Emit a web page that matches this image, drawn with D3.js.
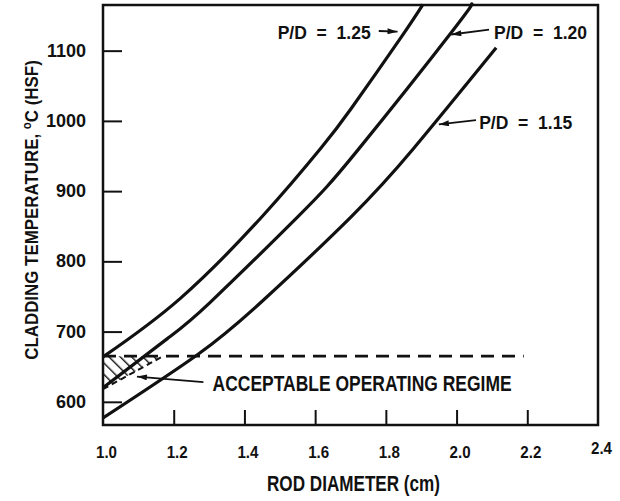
<!DOCTYPE html>
<html>
<head>
<meta charset="utf-8">
<script src="https://cdn.jsdelivr.net/npm/d3@7"></script>
<style>
  body { margin: 0; background: #fff; }
  text { font-family: 'Liberation Sans', Arial, sans-serif; font-weight: bold; fill: #111; }
</style>
</head>
<body>
<div id="chart"></div>
<script>
////////////////////////////////////////////////////////////////////////
// Data: rod diameter (cm) vs cladding temperature (C)

let xTicks = [1.0, 1.2, 1.4, 1.6, 1.8, 2.0, 2.2, 2.4];
let yTicks = [600, 700, 800, 900, 1000, 1100];

// one curve per pitch-to-diameter ratio
let pd125Diam = [1.0, 1.218, 1.454, 1.616, 1.701, 1.843, 1.905];
let pd125Temp = [664, 747, 866, 961, 1017, 1119, 1166];

let pd120Diam = [1.0, 1.182, 1.304, 1.55, 1.72, 1.99, 2.04];
let pd120Temp = [620, 690, 742, 863, 958, 1129, 1166];

let pd115Diam = [1.0, 1.267, 1.454, 1.701, 1.879, 2.112];
let pd115Temp = [577, 667, 745, 863, 961, 1104];

// temperature limit (dashed) and the hatched acceptable wedge
let limitTemp = 665;
let limitDiam = [1.0, 2.19];
let regimeDiam = [1.0, 1.17, 1.0];
let regimeTemp = [665, 665, 618];

// labels with arrows
let labelText = ["P/D  =  1.25", "P/D  =  1.20", "P/D  =  1.15", "ACCEPTABLE OPERATING REGIME"];
let labelDiam = [1.494, 2.106, 2.064, 1.31];
let labelTemp = [1127, 1127, 998, 627];
let arrowFrom = [[1.78, 1128], [2.092, 1130], [2.055, 1001], [1.284, 628]];
let arrowTo = [[1.833, 1127], [1.985, 1123], [1.95, 995], [1.096, 636]];

////////////////////////////////////////////////////////////////////////
// svg and scales

let width = 620;
let height = 501;

let svg = d3.select("#chart")
  .append("svg")
  .attr("width", width).attr("height", height);

let xScale = d3.scaleLinear()
  .domain([1.0, 2.4])
  .range([103, 598]);

let yScale = d3.scaleLinear()
  .domain([567, 1165])
  .range([425, 5]);

let defs = svg.append("defs");

// filled, narrow arrow head
defs.append("marker")
  .attr("id", "head")
  .attr("viewBox", "0 0 10 6")
  .attr("refX", 10).attr("refY", 3)
  .attr("markerWidth", 11).attr("markerHeight", 6)
  .attr("markerUnits", "userSpaceOnUse")
  .attr("orient", "auto")
  .append("path")
  .attr("d", "M0,0 L10,3 L0,6 Z")
  .attr("fill", "#111");

// diagonal hatching
let pattern = defs.append("pattern")
  .attr("id", "hatch")
  .attr("patternUnits", "userSpaceOnUse")
  .attr("width", 8).attr("height", 8)
  .attr("patternTransform", "rotate(-45)");
pattern.append("line")
  .attr("x1", 0).attr("y1", 0).attr("x2", 0).attr("y2", 8)
  .attr("stroke", "#111").attr("stroke-width", 2.8);

////////////////////////////////////////////////////////////////////////
// frame and ticks (ticks point inward)

svg.append("rect")
  .attr("x", xScale(1.0)).attr("y", yScale(1165))
  .attr("width", xScale(2.4) - xScale(1.0))
  .attr("height", yScale(567) - yScale(1165))
  .attr("fill", "none").attr("stroke", "#111").attr("stroke-width", 2.5);

let xAxis = d3.axisTop(xScale)
  .tickValues(xTicks.slice(1, -1))
  .tickSize(15)
  .tickFormat("");
svg.append("g")
  .attr("transform", "translate(0," + yScale(567) + ")")
  .call(xAxis)
  .call(g => g.select(".domain").remove())
  .selectAll("line").attr("stroke", "#111").attr("stroke-width", 2);

let yAxis = d3.axisRight(yScale)
  .tickValues(yTicks)
  .tickSize(19)
  .tickFormat("");
svg.append("g")
  .attr("transform", "translate(" + xScale(1.0) + ",0)")
  .call(yAxis)
  .call(g => g.select(".domain").remove())
  .selectAll("line").attr("stroke", "#111").attr("stroke-width", 2);

// tick labels
svg.selectAll(".xlabel")
  .data(xTicks)
  .enter().append("text")
  .attr("class", "xlabel")
  .attr("x", d => xScale(d) - 7)
  .attr("y", d => d === 2.4 ? 454 : 458)
  .attr("textLength", 21)
  .attr("lengthAdjust", "spacingAndGlyphs")
  .style("font-size", "17px")
  .text(d => d.toFixed(1));

svg.selectAll(".ylabel")
  .data(yTicks)
  .enter().append("text")
  .attr("class", "ylabel")
  .attr("x", 86)
  .attr("y", d => yScale(d) + 6)
  .attr("text-anchor", "end")
  .style("font-size", "18px")
  .text(d => d);

// axis titles
svg.append("text")
  .attr("x", 267).attr("y", 491)
  .attr("textLength", 173)
  .attr("lengthAdjust", "spacingAndGlyphs")
  .style("font-size", "22px")
  .text("ROD DIAMETER (cm)");

let ytitle = svg.append("text")
  .attr("transform", "translate(38,210) rotate(-90) scale(0.89,1)")
  .attr("text-anchor", "middle")
  .style("font-size", "19px");
ytitle.append("tspan").text("CLADDING TEMPERATURE, ");
ytitle.append("tspan").attr("dy", -7).style("font-size", "13px").text("o");
ytitle.append("tspan").attr("dy", 7).text("C  (HSF)");

////////////////////////////////////////////////////////////////////////
// hatched region and dashed limit

let regime = d3.zip(regimeDiam, regimeTemp);
let regimeLine = d3.line().x(d => xScale(d[0])).y(d => yScale(d[1]));
svg.append("path")
  .attr("d", regimeLine(regime) + "Z")
  .attr("fill", "url(#hatch)")
  .attr("stroke", "none");

// lower edge of the wedge, drawn broken
svg.append("path")
  .attr("d", regimeLine([regime[2], regime[1]]))
  .attr("fill", "none")
  .attr("stroke", "#111").attr("stroke-width", 2)
  .attr("stroke-dasharray", "6,4");

svg.append("line")
  .attr("x1", xScale(limitDiam[0])).attr("x2", xScale(limitDiam[1]))
  .attr("y1", yScale(limitTemp)).attr("y2", yScale(limitTemp))
  .attr("stroke", "#111").attr("stroke-width", 2.6)
  .attr("stroke-dasharray", "13,8");

////////////////////////////////////////////////////////////////////////
// the three P/D curves

let curves = [
  d3.zip(pd125Diam, pd125Temp),
  d3.zip(pd120Diam, pd120Temp),
  d3.zip(pd115Diam, pd115Temp)
];

let line = d3.line()
  .x(d => xScale(d[0]))
  .y(d => yScale(d[1]))
  .curve(d3.curveNatural);

svg.append("g")
  .selectAll(".curve")
  .data(curves)
  .enter().append("path")
  .attr("class", "curve")
  .attr("d", line)
  .attr("fill", "none")
  .attr("stroke", "#111")
  .attr("stroke-width", 3.2);

////////////////////////////////////////////////////////////////////////
// annotations

svg.selectAll(".arrow")
  .data(d3.range(labelText.length))
  .enter().append("line")
  .attr("class", "arrow")
  .attr("x1", i => xScale(arrowFrom[i][0])).attr("y1", i => yScale(arrowFrom[i][1]))
  .attr("x2", i => xScale(arrowTo[i][0])).attr("y2", i => yScale(arrowTo[i][1]))
  .attr("stroke", "#111").attr("stroke-width", 1.8)
  .attr("marker-end", "url(#head)");

svg.selectAll(".note")
  .data(d3.range(labelText.length))
  .enter().append("text")
  .attr("class", "note")
  .attr("x", i => xScale(labelDiam[i]))
  .attr("y", i => yScale(labelTemp[i]) + (i === 3 ? 8 : 7))
  .attr("textLength", i => i === 3 ? 299 : 93)
  .attr("lengthAdjust", "spacingAndGlyphs")
  .style("font-size", i => i === 3 ? "22px" : "18px")
  .style("white-space", "pre")
  .text(i => labelText[i]);
</script>
</body>
</html>
